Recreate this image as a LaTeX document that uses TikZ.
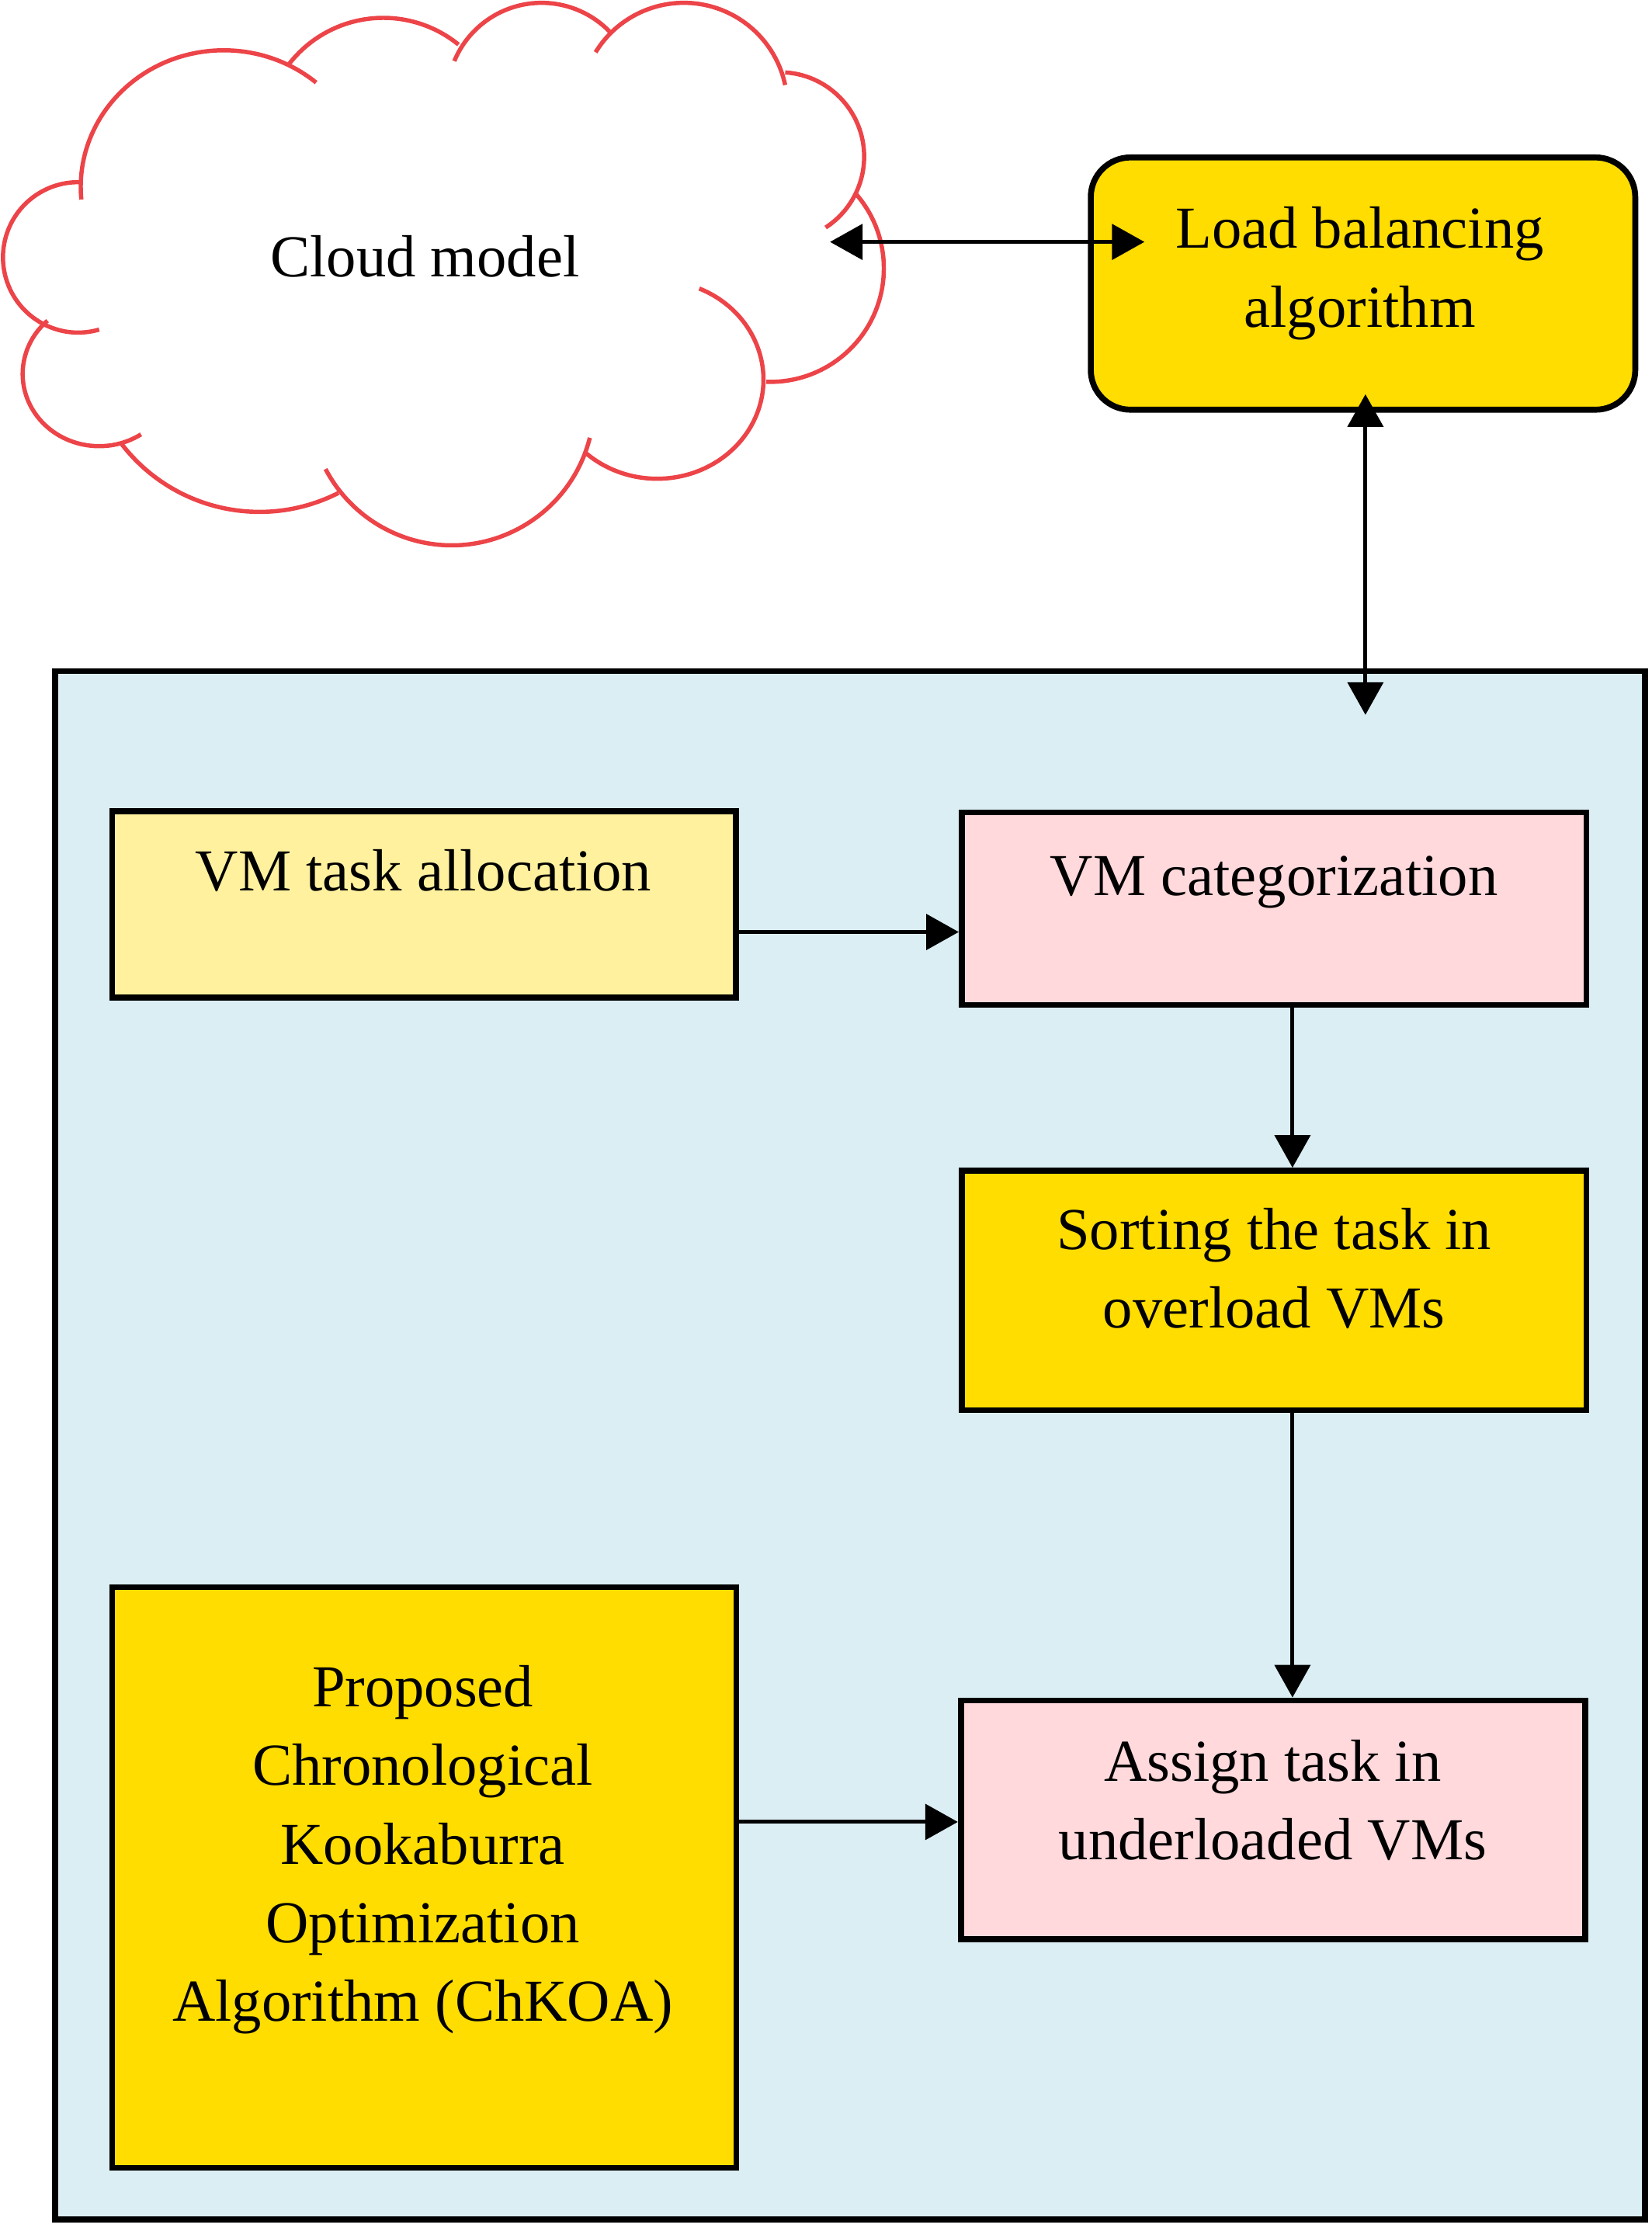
\documentclass[tikz,border=0pt]{standalone}
\usepackage{fontspec}
\setmainfont{Liberation Serif}
\usetikzlibrary{arrows.meta}
\definecolor{gold}{RGB}{255,221,0}
\definecolor{paleyellow}{RGB}{255,241,158}
\definecolor{palepink}{RGB}{255,217,220}
\definecolor{paleblue}{RGB}{219,238,244}
\definecolor{cloudred}{RGB}{236,68,72}
\begin{document}
\begin{tikzpicture}[x=1pt,y=-1pt,
    box/.style={draw,line width=4.2pt,inner sep=0pt},
    txt/.style={align=center,inner sep=0pt,font=\fontsize{42}{55.5}\selectfont},
    arr/.style={line width=2.7pt,-{Triangle[length=23pt,width=25pt]}},
    dbl/.style={line width=2.7pt,{Triangle[length=23pt,width=25pt]}-{Triangle[length=23pt,width=25pt]}}]
    \useasboundingbox (0,0) rectangle (1166,1573);
    % cloud outline, one arc per puff
    \foreach \cx/\cy/\rx/\ry/\a/\b in {158/132/101/96.5/174.7/310.2, 270.6/96.8/84.2/84.2/217.7/309.1,
        382.4/68.8/66.8/66.8/202.6/316.7, 482.8/75.1/73.1/73.1/211.5/348.1,
        550.5/110.6/59.6/59.6/273.7/417.1, 543.9/189.5/80.1/80.1/318.4/452.1,
        464/268/75/70/293.3/492.8, 318.9/284.4/100.6/100.6/14.2/152.3,
        183.2/238.6/122.8/122.8/63/142.3, 70/264/54/51/56.8/227.5, 55.2/181.7/53.1/53.1/73.8/272.4}
        \draw[cloudred,line width=3pt] ({\cx+\rx*cos(\a)},{\cy+\ry*sin(\a)})
            arc[start angle=\a,end angle=\b,x radius=\rx,y radius=\ry];
    \node[txt,anchor=base] (cloud) at (300,195.5) {Cloud model};
    \coordinate (cloudend) at (586,170.8);

    \node[box,fill=gold,rounded corners=28pt,minimum width=384.4pt,minimum height=178.1pt] (lb) at (962.3,200.2) {};
    \node[txt] (lbtxt) at (960,193) {Load balancing\\algorithm};

    \node[box,fill=paleblue,minimum width=1122.5pt,minimum height=1093.2pt] (panel) at (600.2,1020.4) {};

    \node[box,fill=paleyellow,minimum width=440.3pt,minimum height=131.5pt] (vmtask) at (299.3,638.6) {};
    \node[txt,anchor=base] (vmtasktxt) at (299,628.7) {VM task allocation};
    \node[box,fill=palepink,minimum width=441pt,minimum height=136pt] (vmcat) at (899.5,641.5) {};
    \node[txt,anchor=base] (vmcattxt) at (899.5,632) {VM categorization};
    \node[box,fill=gold,minimum width=441pt,minimum height=169pt] (sort) at (899.5,911) {};
    \node[txt] (sorttxt) at (899.5,895.5) {Sorting the task in\\overload VMs};
    \node[box,fill=palepink,minimum width=440.7pt,minimum height=168.7pt] (assign) at (898.7,1284.9) {};
    \node[txt] (assigntxt) at (898.5,1271) {Assign task in\\underloaded VMs};
    \node[box,fill=gold,minimum width=440.7pt,minimum height=410pt] (proposed) at (299.5,1325.5) {};
    \node[txt] (proposedtxt) at (298.5,1306) {Proposed\\Chronological\\Kookaburra\\Optimization\\Algorithm (ChKOA)};

    \draw[dbl,shorten >=-40pt] (cloudend) -- (cloudend -| lb.west);
    \draw[dbl,shorten <=-13pt,shorten >=-33pt] ([xshift=1.7pt]lb.south) -- ([xshift=1.7pt]lb.south |- panel.north);
    \draw[arr] ([yshift=-19.4pt]vmtask.east) -- ([yshift=-16.5pt]vmcat.west);
    \draw[arr] ([xshift=13pt]vmcat.south) -- ([xshift=13pt]sort.north);
    \draw[arr] ([xshift=13pt]sort.south) -- ([xshift=13.8pt]assign.north);
    \draw[arr] ([yshift=-1.4pt]assign.west -| proposed.east) -- ([yshift=-1.4pt]assign.west);
\end{tikzpicture}
\end{document}
